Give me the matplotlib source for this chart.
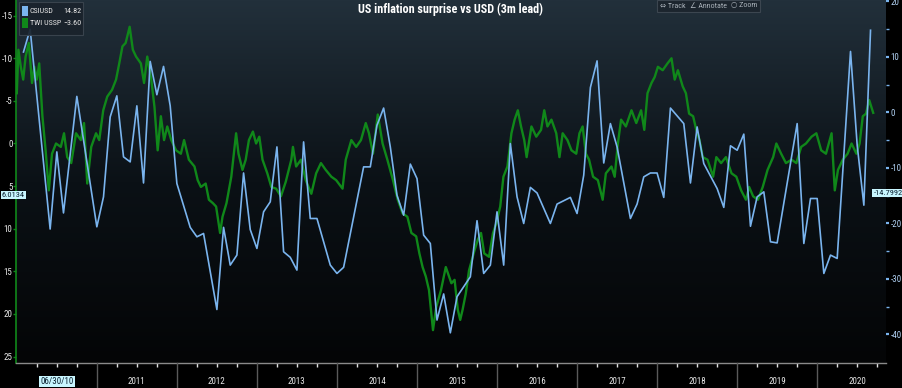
import numpy as np
import pandas as pd
import matplotlib
matplotlib.use("Agg")
import matplotlib.pyplot as plt
from matplotlib import font_manager
from matplotlib.colors import LinearSegmentedColormap
from matplotlib.patches import Rectangle

# CSIUSD (right axis), monthly
blue_months = ["2010-02", "2010-03", "2010-06", "2010-07", "2010-08", "2010-10",
               "2011-01", "2011-02", "2011-03", "2011-04", "2011-05", "2011-06",
               "2011-07", "2011-08", "2011-09", "2011-10", "2011-11", "2011-12",
               "2012-01", "2012-03", "2012-04", "2012-05", "2012-07", "2012-08",
               "2012-09", "2012-10", "2012-11", "2012-12", "2013-01", "2013-02",
               "2013-03", "2013-04", "2013-05", "2013-06", "2013-07", "2013-08",
               "2013-09", "2013-10", "2013-12", "2014-01", "2014-02", "2014-05",
               "2014-06", "2014-07", "2014-08", "2014-09", "2014-10", "2014-11",
               "2014-12", "2015-01", "2015-02", "2015-03", "2015-04", "2015-05",
               "2015-06", "2015-07", "2015-09", "2015-10", "2015-11", "2015-12",
               "2016-01", "2016-02", "2016-03", "2016-04", "2016-05", "2016-06",
               "2016-07", "2016-09", "2016-10", "2016-12", "2017-01", "2017-02",
               "2017-03", "2017-04", "2017-05", "2017-06", "2017-07", "2017-09",
               "2017-10", "2017-11", "2017-12", "2018-01", "2018-02", "2018-03",
               "2018-04", "2018-05", "2018-06", "2018-07", "2018-08", "2018-10",
               "2018-11", "2018-12", "2019-01", "2019-02", "2019-03", "2019-04",
               "2019-05", "2019-06", "2019-07", "2019-10", "2019-11", "2019-12",
               "2020-01", "2020-02", "2020-03", "2020-04", "2020-06", "2020-07",
               "2020-08", "2020-09"]
blue_vals = [10.9, 15.0, -21.0, -7.1, -18.1, 2.9,
             -20.6, -15.2, -0.8, 3.0, -8.0, -8.9,
             1.2, -12.7, 9.2, 3.2, 8.3, 1.2,
             -12.8, -20.7, -22.4, -21.8, -35.5, -20.7,
             -27.5, -25.7, -10.9, -21.1, -24.5, -17.9,
             -16.1, -6.2, -25.1, -26.1, -28.4, -5.3,
             -19.1, -19.1, -27.5, -29.0, -27.9, -9.8,
             -9.8, -2.3, 0.8, -6.2, -14.9, -18.5,
             -9.3, -11.9, -22.1, -23.6, -37.4, -32.7,
             -39.7, -33.2, -29.6, -19.5, -29.0, -27.5,
             -17.9, -27.5, -5.6, -15.2, -20.0, -13.5,
             -14.5, -20.0, -16.5, -15.3, -18.2, -11.3,
             4.5, 9.3, -9.1, -2.0, -6.2, -19.1,
             -16.5, -11.6, -10.9, -10.9, -15.3, 0.8,
             -0.6, -2.0, -12.7, -2.6, -9.2, -13.7,
             -17.1, -6.0, -6.8, -3.9, -20.5, -15.2,
             -14.3, -23.3, -23.5, -2.0, -23.6, -15.5,
             -15.5, -29.0, -25.7, -26.3, 11.0, -5.9,
             -16.7, 14.82]

# TWI USSP (left axis, inverted), decimal years
green_t = [2010.00, 2010.02, 2010.05, 2010.08, 2010.11, 2010.15, 2010.19, 2010.22, 2010.25, 2010.28,
           2010.32, 2010.36, 2010.40, 2010.44, 2010.49, 2010.55, 2010.59, 2010.63, 2010.68, 2010.74,
           2010.80, 2010.84, 2010.88, 2010.93, 2010.99, 2011.03, 2011.08, 2011.13, 2011.19, 2011.24,
           2011.28, 2011.32, 2011.36, 2011.41, 2011.45, 2011.49, 2011.55, 2011.59, 2011.63, 2011.68,
           2011.72, 2011.76, 2011.80, 2011.84, 2011.88, 2011.93, 2011.99, 2012.05, 2012.09, 2012.15,
           2012.22, 2012.26, 2012.30, 2012.36, 2012.40, 2012.45, 2012.49, 2012.54, 2012.57, 2012.62,
           2012.68, 2012.74, 2012.77, 2012.82, 2012.86, 2012.90, 2012.95, 2012.99, 2013.03, 2013.07,
           2013.13, 2013.18, 2013.24, 2013.30, 2013.36, 2013.43, 2013.45, 2013.49, 2013.55, 2013.61,
           2013.68, 2013.74, 2013.80, 2013.86, 2013.93, 2013.99, 2014.07, 2014.11, 2014.18, 2014.24,
           2014.30, 2014.36, 2014.40, 2014.45, 2014.51, 2014.57, 2014.63, 2014.70, 2014.76, 2014.82,
           2014.88, 2014.93, 2014.99, 2015.03, 2015.07, 2015.11, 2015.15, 2015.20, 2015.24, 2015.30,
           2015.36, 2015.43, 2015.47, 2015.51, 2015.54, 2015.57, 2015.61, 2015.65, 2015.72, 2015.76,
           2015.80, 2015.84, 2015.90, 2015.95, 2015.99, 2016.04, 2016.08, 2016.13, 2016.18, 2016.22,
           2016.26, 2016.30, 2016.34, 2016.37, 2016.43, 2016.49, 2016.55, 2016.59, 2016.63, 2016.68,
           2016.74, 2016.78, 2016.82, 2016.88, 2016.93, 2016.99, 2017.03, 2017.07, 2017.11, 2017.15,
           2017.20, 2017.26, 2017.32, 2017.36, 2017.43, 2017.47, 2017.51, 2017.55, 2017.61, 2017.68,
           2017.74, 2017.80, 2017.84, 2017.88, 2017.93, 2017.97, 2018.01, 2018.07, 2018.13, 2018.18,
           2018.22, 2018.26, 2018.32, 2018.36, 2018.40, 2018.45, 2018.49, 2018.53, 2018.57, 2018.63,
           2018.70, 2018.74, 2018.80, 2018.86, 2018.93, 2018.99, 2019.05, 2019.11, 2019.15, 2019.20,
           2019.26, 2019.32, 2019.38, 2019.45, 2019.49, 2019.55, 2019.61, 2019.68, 2019.74, 2019.80,
           2019.86, 2019.93, 2019.99, 2020.05, 2020.11, 2020.18, 2020.22, 2020.26, 2020.32, 2020.38,
           2020.43, 2020.49, 2020.53, 2020.57, 2020.61, 2020.65, 2020.70]
green_v = [-5.9, -11.0, -9.0, -7.5, -10.2, -11.8, -7.1, -9.0, -7.5, -9.4,
           -3.2, 0.8, 5.5, 1.2, 0.0, 0.4, -1.2, 1.6, 2.3, -1.2,
           -0.4, -2.4, 4.7, 0.4, -1.2, -0.4, -3.9, -5.5, -6.3, -7.5,
           -9.4, -11.4, -11.8, -13.7, -11.0, -10.2, -9.4, -7.1, -10.2, -7.5,
           -4.3, 0.8, -3.2, -0.4, -2.0, -0.4, 0.8, 1.2, -0.4, 1.9,
           2.7, 4.3, 5.1, 4.7, 6.6, 7.0, 7.4, 10.5, 8.6, 7.0,
           3.9, -1.2, 1.2, 3.1, 1.9, -0.4, -1.4, 0.0, -0.8, 1.9,
           3.5, 5.1, 5.3, 6.2, 4.5, 1.9, 0.4, 2.7, 1.9, 4.3,
           5.9, 3.5, 2.3, 3.1, 3.9, 4.3, 5.3, 1.9, -0.4, 0.4,
           -0.4, -2.4, -1.2, 1.2, -3.4, 0.0, 1.9, 4.3, 6.6, 8.2,
           8.6, 10.5, 10.9, 12.9, 14.5, 15.6, 17.2, 21.9, 19.2, 17.2,
           14.5, 16.4, 16.0, 19.5, 20.7, 19.5, 17.6, 14.9, 12.5, 11.3,
           10.5, 12.9, 13.3, 10.5, 9.4, 7.4, 3.9, 2.7, -1.2, -2.8,
           -3.9, -2.0, -0.4, 1.6, -2.0, -0.8, -1.6, -3.9, -2.0, -2.8,
           -1.2, 1.6, -1.2, -0.4, 0.8, 1.2, -1.2, -2.0, 1.2, 1.9,
           3.9, 4.3, 6.6, 3.5, 2.7, 3.9, 0.0, -2.8, -2.0, -3.9,
           -2.4, -3.9, -1.6, -5.9, -7.1, -7.8, -9.0, -8.6, -9.4, -10.0,
           -7.5, -8.6, -6.7, -5.9, -3.5, -3.2, -1.6, -0.4, 1.6, 1.9,
           3.9, 1.6, 2.3, 1.6, 3.5, 3.9, 5.5, 6.6, 5.1, 6.2,
           6.6, 5.1, 3.1, 1.6, 0.0, 1.2, 2.3, 1.9, 2.3, 0.4,
           0.0, -0.8, -1.2, 0.8, 1.2, -1.2, 5.5, 3.1, 1.9, 1.2,
           0.0, 1.2, 0.0, -3.2, -3.5, -5.1, -3.60]

title = "US inflation surprise vs USD (3m lead)"
years = list(range(2011, 2021))
left_ticks = [-15, -10, -5, 0, 5, 10, 15, 20, 25]
right_ticks = [-40, -30, -20, -10, 0, 10, 20]

BLUE = "#7ab4ee"
GREEN = "#10881a"
W, H = 902, 388

# prefer a narrow face if one is installed
names = {f.name for f in font_manager.fontManager.ttflist}
narrow = "DejaVu Sans"
for cand in ["Liberation Sans Narrow", "Roboto Condensed", "Open Sans Condensed",
             "Noto Sans Condensed", "DejaVu Sans Condensed"]:
    if cand in names:
        narrow = cand
        break
plt.rcParams["font.family"] = [narrow, "DejaVu Sans"]
plt.rcParams["font.stretch"] = "condensed"


def fp(x, y):
    # pixel (from top-left) -> figure fraction
    return x / W, 1 - y / H


bm = pd.to_datetime(blue_months)
blue_t = bm.year + (bm.month - 1) / 12.0

fig = plt.figure(figsize=(W / 100, H / 100), dpi=100, facecolor="black")
ax = fig.add_axes([16 / W, 25 / H, 870 / W, 363 / H])
ax2 = ax.twinx()
ax2.patch.set_visible(False)

# gradient background
cmap = LinearSegmentedColormap.from_list("bg", ["#040506", "#0b1116", "#22303b"])
ax.imshow(np.linspace(0, 1, 256)[:, None][::-1], extent=[0, 1, 0, 1],
          transform=ax.transAxes, aspect="auto", cmap=cmap, zorder=0)

ax.plot(green_t, green_v, color=GREEN, lw=1.7, zorder=3)
ax2.plot(blue_t, blue_vals, color=BLUE, lw=1.2, zorder=4)

ax.set_xlim(2009.99, 2020.86)
ax.set_ylim(25.76, -16.84)
ax2.set_ylim(-45.14, 20.27)

# spines
for s in ["top", "right"]:
    ax.spines[s].set_visible(False)
for s in ["top", "right", "left", "bottom"]:
    ax2.spines[s].set_visible(False)
ax.spines["left"].set_color(GREEN)
ax.spines["left"].set_linewidth(1.2)
ax.spines["bottom"].set_color("#8a8a8a")
ax.spines["bottom"].set_linewidth(1.0)

# left axis
ax.set_yticks(left_ticks)
ax.set_yticklabels([str(v) for v in left_ticks])
ax.tick_params(axis="y", colors=GREEN, length=2, width=1, pad=0.5, labelsize=6.5,
               labelcolor="#e8e8e8")

# right axis
ax2.set_yticks(right_ticks)
ax2.set_yticklabels([str(v) for v in right_ticks])
ax2.set_yticks(np.arange(-35, 20, 10), minor=True)
ax2.tick_params(axis="y", which="major", colors=BLUE, length=2.5, width=1.6, pad=0.8,
                labelsize=6.5, labelcolor="#b0d0f2")
ax2.tick_params(axis="y", which="minor", colors=BLUE, length=2, width=1)

# x axis: quarter ticks, year separators, year labels
qticks = [y + q for y in range(2010, 2021) for q in (0.25, 0.5, 0.75)]
qticks = [q for q in qticks if q < 2020.86]
ax.set_xticks(qticks)
ax.set_xticklabels([])
ax.tick_params(axis="x", colors="#e0e0e0", length=3, width=1)
xtr = ax.get_xaxis_transform()
for y in years:
    ax.plot([y, y], [0, -25 / 363], color="#5a5a5a", lw=1, transform=xtr,
            clip_on=False, zorder=5)
    ax.text(y + 0.5, -0.05, str(y), transform=xtr, ha="center", va="center",
            fontsize=6.5, color="#e6e6e6")
ax.text(2010.5, -0.05, "06/30/10", transform=xtr, ha="center", va="center",
        fontsize=6.5, color="#0a2030",
        bbox=dict(boxstyle="square,pad=0.12", fc="#c8f6ff", ec="none"))

# title
fig.text(*fp(451, 9), title, ha="center", va="center", color="white",
         fontsize=8.7, fontweight="bold")

# legend box
lx, ly = fp(19, 35)
fig.patches.append(Rectangle((lx, ly), 64 / W, 33 / H, transform=fig.transFigure,
                             fc="#1a232c", ec="#3c4650", lw=0.8, alpha=0.92, zorder=2))
for i, (name, val, col) in enumerate([("CSIUSD", "14.82", BLUE),
                                      ("TWI USSP", "\u22123.60", GREEN)]):
    yc = 11 + i * 12
    sx, sy = fp(21.5, yc + 4.5)
    fig.patches.append(Rectangle((sx, sy), 6 / W, 9 / H, transform=fig.transFigure,
                                 fc=col, ec="none", zorder=3))
    fig.text(*fp(29.5, yc), name, ha="left", va="center", fontsize=5.8, color="#e8e8e8")
    fig.text(*fp(81, yc), val, ha="right", va="center", fontsize=5.8, color="#e8e8e8")

# toolbar
tx, ty = fp(657, 12)
fig.patches.append(Rectangle((tx, ty), 103 / W, 12 / H, transform=fig.transFigure,
                             fc="#1c252e", ec="#3c4650", lw=0.8, zorder=2))
for sx in (689, 728):
    fig.lines.append(plt.Line2D([sx / W, sx / W], [1 - 12 / H, 1], color="#3c4650",
                                lw=0.8, transform=fig.transFigure))
for x, label in [(673, "\u21d4 Track"), (708.5, "\u2220 Annotate"), (744, "\u25cb Zoom")]:
    fig.text(*fp(x, 5.5), label, ha="center", va="center", fontsize=5.8, color="#a8b0b8")

# crosshair value labels
fig.text(*fp(13.5, 195), "6.0134", ha="center", va="center", fontsize=6, color="#0a2030",
         bbox=dict(boxstyle="square,pad=0.15", fc="#c8f6ff", ec="none"))
fig.text(*fp(888, 193), "-14.7992", ha="center", va="center", fontsize=6, color="#0a2030",
         bbox=dict(boxstyle="square,pad=0.15", fc="#c8f6ff", ec="none"))

fig.savefig("out.png", dpi=100, facecolor="black")
